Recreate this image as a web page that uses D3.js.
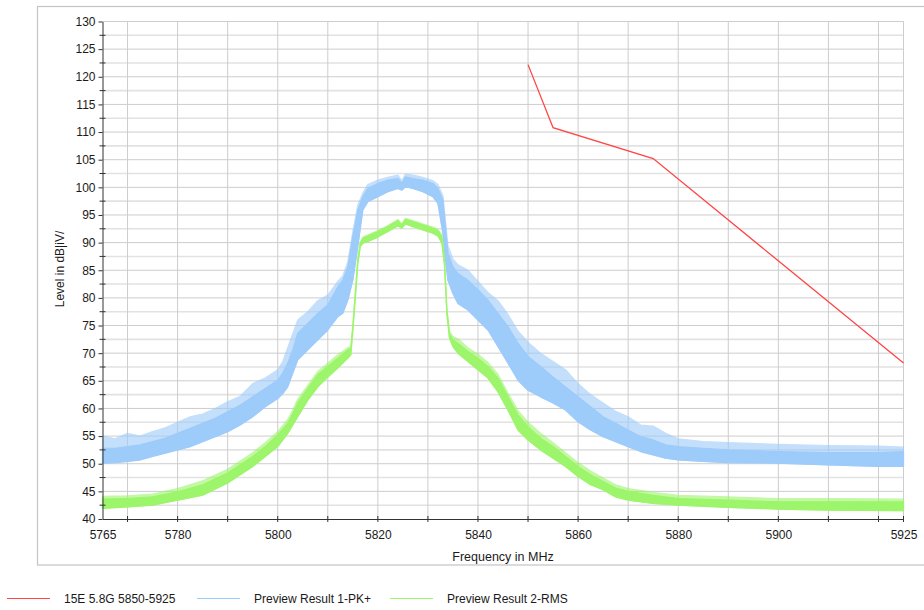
<!DOCTYPE html>
<html><head><meta charset="utf-8">
<script src="https://cdn.jsdelivr.net/npm/d3@7"></script>
<style>
body{margin:0;background:#fff}
text{font-family:"Liberation Sans",Arial,sans-serif;fill:#1a1a1a}
</style>
</head><body>
<svg id="chart" width="924" height="610"></svg>
<script>
// ---- data ----
const limitFreq  = [5850, 5855, 5875, 5925];
const limitLevel = [122.2, 110.8, 105.2, 68.2];

const pkFreq = [5765,5767.5,5770,5772.5,5775,5777.5,5780,5782.5,5785,5787.5,5790,5792.5,5795,5797.5,5800,5801,5802,5803,5804,5806,5808,5810,5812,5813,5814,5815,5816,5817,5818,5820,5822,5824,5824.8,5825.5,5827,5829,5831,5832,5833,5833.5,5834,5835,5836,5838,5840,5842,5844,5846,5848,5850,5852.5,5855,5857.5,5860,5862.5,5865,5867.5,5870,5872.5,5875,5877.5,5880,5885,5890,5900,5910,5920,5925];
const pkHigh = [52.8,52.8,53.1,53.4,54.0,54.6,55.5,56.4,57.3,58.2,59.4,60.6,62.1,63.6,65.1,66.4,68.2,70.6,73.6,75.4,77.2,78.7,82.0,83.2,85.6,91.1,95.9,98.3,99.8,100.7,101.3,101.6,100.7,101.9,101.6,101.3,100.7,99.8,97.7,92.9,88.1,85.6,84.4,83.2,81.5,79.6,77.2,74.8,71.8,69.4,67.6,65.7,63.9,62.1,60.3,58.5,57.3,56.1,54.9,54.3,53.4,53.1,52.8,52.5,52.2,52.0,52.0,52.2];
const pkLow  = [50.1,50.2,50.4,50.7,51.3,51.9,52.5,53.1,54.0,54.9,55.8,57.0,58.5,60.3,61.8,62.7,63.9,66.4,68.8,70.6,72.4,74.2,76.6,77.2,79.6,83.2,89.3,95.9,97.4,98.3,99.2,99.8,99.5,100.1,99.8,99.2,98.3,97.1,91.7,86.9,83.2,80.8,79.0,77.8,76.0,74.2,71.2,68.2,65.1,63.3,62.1,61.0,59.7,57.6,56.1,54.9,54.0,53.1,52.2,51.6,51.0,50.7,50.4,50.2,50.1,49.8,49.5,49.5];
// outer noise-peak envelope (fuzz above the dense band)
const pkPeak = [55.0,54.5,55.5,55.0,55.8,56.5,57.5,58.5,59.0,60.0,61.2,62.2,64.5,65.5,67.0,68.5,71.0,73.5,76.0,77.5,79.5,80.5,83.0,84.0,86.5,92.0,96.8,99.0,100.5,101.3,101.8,102.2,101.2,102.4,102.2,101.8,101.2,100.5,98.5,94.0,89.5,87.0,86.0,85.0,83.0,81.0,79.5,77.0,74.0,72.0,70.0,68.5,67.0,64.5,62.5,61.0,59.5,58.5,57.0,56.8,55.5,54.5,54.0,53.8,53.5,53.3,53.2,53.0];

const rmsFreq = [5765,5770,5775,5780,5785,5790,5792.5,5795,5797.5,5800,5802,5803,5804,5806,5808,5810,5812,5814,5814.6,5815,5815.5,5816,5816.5,5817,5818,5820,5822,5824,5824.8,5825.5,5827,5829,5831,5832,5832.8,5833.3,5833.8,5834.3,5835,5836,5838,5840,5842,5844,5846,5848,5850,5852.5,5855,5857.5,5860,5862.5,5865,5867.5,5870,5875,5880,5890,5900,5910,5925];
const rmsHigh = [43.6,43.7,44.0,44.9,46.2,48.3,49.8,51.3,53.1,55.2,57.3,59.1,61.0,63.6,66.1,67.6,69.1,70.6,70.9,74.8,80.8,86.9,89.9,90.8,91.2,92.0,92.9,94.0,93.2,94.2,93.8,93.2,92.6,92.2,91.1,86.9,77.8,73.6,72.4,71.8,70.3,69.1,67.6,65.5,62.1,58.8,56.7,54.6,53.1,51.3,49.5,48.0,46.8,45.6,45.0,44.3,43.7,43.4,43.1,43.1,43.1];
const rmsLow  = [41.9,42.2,42.5,43.4,44.3,46.5,48.0,49.5,51.3,53.1,55.5,57.0,58.5,61.5,63.9,65.7,67.3,69.1,69.7,74.0,80.0,86.2,89.3,89.9,90.2,91.0,92.0,93.0,92.6,93.4,92.9,92.3,91.7,91.2,89.9,86.0,77.0,72.8,71.2,70.0,68.5,67.0,65.5,63.0,59.7,56.1,54.3,52.5,51.0,49.5,47.7,46.2,45.3,44.0,43.4,42.8,42.5,42.1,41.8,41.6,41.5];
const rmsPeak = [44.1,44.2,44.5,45.5,46.9,49.0,50.5,52.0,53.8,55.8,58.0,59.7,61.7,64.2,66.7,68.2,69.7,71.0,71.2,75.0,81.0,87.1,90.1,91.0,91.4,92.2,93.1,94.2,93.4,94.4,94.0,93.4,92.8,92.4,91.3,87.1,78.0,74.0,73.0,72.6,71.0,69.8,68.3,66.2,62.8,59.6,57.5,55.5,53.8,52.0,50.2,48.7,47.4,46.2,45.5,44.8,44.3,44.0,43.7,43.7,43.6];

const xTickValues = [5765,5780,5800,5820,5840,5860,5880,5900,5925];
const yTickValues = [40,45,50,55,60,65,70,75,80,85,90,95,100,105,110,115,120,125,130];
const legendLabels = ["15E 5.8G 5850-5925","Preview Result 1-PK+","Preview Result 2-RMS"];
const seriesColors = ["#ff4545","#9dcbfa","#9cf56a"];

// ---- drawing ----
const svg = d3.select("#chart");
const x = d3.scaleLinear().domain([5765,5925]).range([102.5,903.5]);
const y = d3.scaleLinear().domain([40,130]).range([519,21.5]);

// outer frame
svg.append("rect").attr("x",37.5).attr("y",6.5).attr("width",1000).attr("height",558.5)
  .attr("fill","none").attr("stroke","#c4c4c4").attr("stroke-width",1.2);

// grid
const g = svg.append("g");
const hGrid = d3.range(42.5,130.01,2.5);
g.selectAll("line.h").data(hGrid).join("line")
  .attr("x1",x(5765)).attr("x2",x(5925))
  .attr("y1",d=>y(d)).attr("y2",d=>y(d))
  .attr("stroke",d=>(d%5===0)?"#cdcdcd":"#e2e2e2")
  .attr("stroke-width",d=>(d%5===0)?1:1.6);
const vGrid = d3.range(5770,5921,10).concat([5925]);
g.selectAll("line.v").data(vGrid).join("line")
  .attr("x1",d=>x(d)).attr("x2",d=>x(d))
  .attr("y1",y(40)).attr("y2",y(130))
  .attr("stroke","#cdcdcd").attr("stroke-width",1);

// bands
function band(fr, lo, hi, color, opacity){
  const pts = fr.map((f,i)=>({f, lo:lo[i], hi:hi[i]}));
  const area = d3.area().x(d=>x(d.f)).y0(d=>y(d.lo)).y1(d=>y(d.hi));
  svg.append("path").datum(pts).attr("d",area).attr("opacity",opacity)
    .attr("fill",color).attr("stroke",color).attr("stroke-width",1.2).attr("stroke-linejoin","round");
}
band(pkFreq,pkLow,pkPeak,seriesColors[1],0.6);
band(pkFreq,pkLow,pkHigh,seriesColors[1],1);
band(rmsFreq,rmsLow,rmsPeak,seriesColors[2],0.6);
band(rmsFreq,rmsLow,rmsHigh,seriesColors[2],1);

// limit line
svg.append("path").datum(limitFreq.map((f,i)=>[f,limitLevel[i]]))
  .attr("d",d3.line().x(d=>x(d[0])).y(d=>y(d[1])))
  .attr("fill","none").attr("stroke",seriesColors[0]).attr("stroke-width",1.3);

// axes
const yAxis = svg.append("g").attr("transform",`translate(${x(5765)},0)`)
  .call(d3.axisLeft(y).tickValues(yTickValues).tickSize(4).tickPadding(3).tickSizeOuter(0));
yAxis.selectAll("text").attr("font-size",12).style("font-family","Liberation Sans, Arial, sans-serif").attr("fill","#1a1a1a");
yAxis.select(".domain").attr("stroke","#333");
yAxis.selectAll(".tick line").attr("stroke","#333");
svg.append("g").selectAll("line").data(d3.range(42.5,130,5)).join("line")
  .attr("x1",x(5765)-3).attr("x2",x(5765)+3).attr("y1",d=>y(d)).attr("y2",d=>y(d)).attr("stroke","#333");

const xAxis = svg.append("g").attr("transform",`translate(0,${y(40)})`)
  .call(d3.axisBottom(x).tickValues(xTickValues).tickSize(0).tickPadding(11).tickFormat(d3.format("d")).tickSizeOuter(0));
xAxis.selectAll("text").attr("font-size",12).style("font-family","Liberation Sans, Arial, sans-serif").attr("fill","#1a1a1a");
xAxis.select(".domain").attr("stroke","#333");
svg.append("g").selectAll("line").data(d3.range(5770,5921,10).concat([5925])).join("line")
  .attr("x1",d=>x(d)).attr("x2",d=>x(d)).attr("y1",y(40)-3).attr("y2",y(40)+3).attr("stroke","#333");

// axis titles
svg.append("text").attr("x",503).attr("y",561).attr("text-anchor","middle").attr("font-size",12.5).text("Frequency in MHz");
svg.append("text").attr("transform","translate(64,269) rotate(-90)").attr("text-anchor","middle").attr("font-size",12).text("Level in dB|iV/");

// legend
const legX = [7,197,390];
legendLabels.forEach((lab,i)=>{
  svg.append("line").attr("x1",legX[i]).attr("x2",legX[i]+43).attr("y1",598.5).attr("y2",598.5)
    .attr("stroke",seriesColors[i]).attr("stroke-width",1.2);
  svg.append("text").attr("x",legX[i]+57).attr("y",603).attr("font-size",12).text(lab);
});
</script>
</body></html>
